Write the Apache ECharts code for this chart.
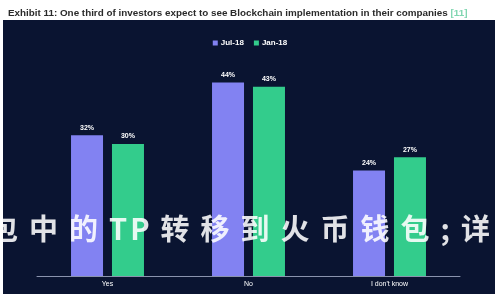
<!DOCTYPE html>
<html>
<head>
<meta charset="utf-8">
<script src="https://cdn.jsdelivr.net/npm/echarts@6/dist/echarts.min.js"></script>
<style>
html,body{margin:0;padding:0;background:#fff;}
#wrap{position:relative;width:500px;height:300px;overflow:hidden;}
#chart{width:500px;height:300px;}
#overlay{position:absolute;left:-11px;top:209px;white-space:nowrap;font-family:"Noto Sans CJK SC";font-weight:bold;font-size:29px;letter-spacing:11px;color:rgba(255,255,255,0.88);line-height:36px;pointer-events:none;}
#overlay .lat{letter-spacing:3px;}
</style>
</head>
<body>
<div id="wrap">
<div id="chart"></div>
<div id="overlay">包中的<span class="lat">T</span><span>P</span>转移到火币钱包;详细</div>
</div>
<script>
const categories = ['Yes', 'No', "I don't know"];
const jul18 = [32, 44, 24];
const jan18 = [30, 43, 27];
const seriesNames = ['Jul-18', 'Jan-18'];
const titleMain = 'Exhibit 11: One third of investors expect to see Blockchain implementation in their companies ';
const titleRef = '[11]';

const chart = echarts.init(document.getElementById('chart'));
const labelStyle = {show: true, position: 'top', color: '#ffffff', fontSize: 7, fontWeight: 'bold', distance: 4, formatter: '{c}%'};
chart.setOption({
  backgroundColor: '#ffffff',
  animation: false,
  title: {
    text: '{a|' + titleMain + '}{b|' + titleRef + '}',
    left: 3, top: 3,
    textStyle: {rich: {
      a: {fontFamily: 'Liberation Sans', fontWeight: 'bold', fontSize: 9.85, color: '#2a2a2a'},
      b: {fontFamily: 'Liberation Sans', fontSize: 9.85, color: '#7fd6b0'}
    }}
  },
  graphic: [{
    type: 'rect', z: -10, silent: true,
    shape: {x: 3, y: 20, width: 492, height: 274},
    style: {fill: '#0a1431'}
  }],
  legend: {
    data: seriesNames, top: 34, left: 'center',
    itemWidth: 5, itemHeight: 5, itemGap: 10, icon: 'rect',
    textStyle: {color: '#ffffff', fontSize: 8, fontWeight: 'bold', padding: [0, 0, 0, -2]}
  },
  grid: {left: 37, right: 40, top: 56, bottom: 24},
  xAxis: {
    type: 'category', data: categories,
    axisLine: {lineStyle: {color: '#8a93ad', width: 1}},
    axisTick: {show: false},
    axisLabel: {color: '#ffffff', fontSize: 7, margin: 5}
  },
  yAxis: {type: 'value', min: 0, max: 50, show: false, splitLine: {show: false}},
  series: [
    {name: seriesNames[0], type: 'bar', data: jul18, barWidth: 32, barGap: '28%', itemStyle: {color: '#8282f2'}, label: labelStyle},
    {name: seriesNames[1], type: 'bar', data: jan18, barWidth: 32, itemStyle: {color: '#33cc8c'}, label: labelStyle}
  ]
});
</script>
</body>
</html>
